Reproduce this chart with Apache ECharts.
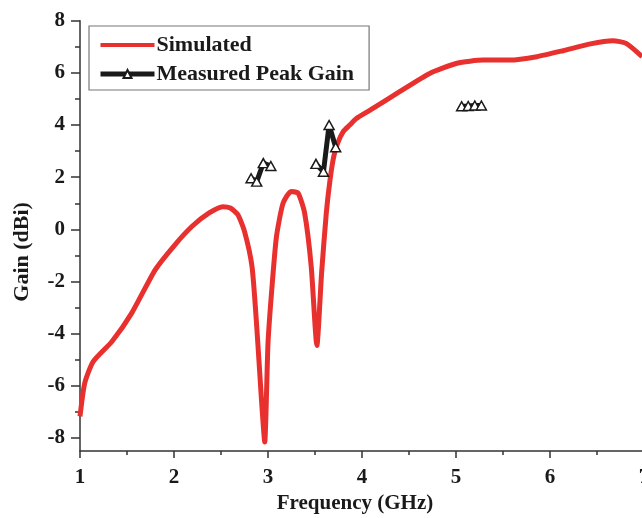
<!DOCTYPE html>
<html><head><meta charset="utf-8">
<script src="https://cdn.jsdelivr.net/npm/echarts@6/dist/echarts.min.js"></script>
<style>html,body{margin:0;padding:0;background:#fff}#c{width:642px;height:518px}</style>
</head><body><div id="c"></div>
<script>
const simFreq = [1.0,1.05,1.14,1.34,1.55,1.8,2.01,2.19,2.37,2.52,2.6,2.68,2.75,2.83,2.88,2.93,2.965,3.0,3.04,3.09,3.16,3.245,3.32,3.39,3.46,3.52,3.57,3.62,3.66,3.7,3.74,3.8,3.87,3.94,4.09,4.4,4.72,5.01,5.29,5.57,5.86,6.14,6.43,6.67,6.81,6.98];
const simGain = [-7.17,-5.9,-5.07,-4.3,-3.21,-1.55,-0.59,0.11,0.62,0.87,0.82,0.56,-0.08,-1.43,-3.72,-6.5,-8.15,-4.36,-2.32,-0.28,1.0,1.45,1.39,0.62,-1.43,-4.45,-1.68,0.62,1.9,2.8,3.3,3.75,4.0,4.25,4.58,5.28,5.98,6.37,6.49,6.49,6.62,6.85,7.11,7.23,7.13,6.62];
const measFreq = [2.82,2.88,2.95,3.03,null,3.51,3.59,3.65,3.72,null,5.06,5.13,5.20,5.27];
const measGain = [1.96,1.83,2.54,2.43,null,2.51,2.21,4.0,3.15,null,4.72,4.73,4.75,4.75];
const xTicks = [1,2,3,4,5,6,7];
const yTicks = [-8,-6,-4,-2,0,2,4,6,8];
const yMinorTicks = [-7,-5,-3,-1,1,3,5,7];

const font = '"Liberation Serif","Times New Roman",serif';
const ink = '#1a1a1a';
const sim = simFreq.map((x,i)=>[x,simGain[i]]);
const meas = measFreq.map((x,i)=> x===null ? [null,null] : [x,measGain[i]]);

const chart = echarts.init(document.getElementById('c'));
chart.setOption({
  animation:false,
  backgroundColor:'#fff',
  grid:{left:80, top:20.7, width:564, height:430.4, containLabel:false, outerBoundsMode:'none'},
  legend:{
    left:89, top:26, orient:'vertical',
    padding:[8,15,5,9], itemGap:7, itemWidth:54, itemHeight:10,
    borderColor:'#777', borderWidth:1.2,
    lineStyle:{width:5},
    textStyle:{fontFamily:font, fontWeight:'bold', fontSize:22, color:ink, padding:[0,0,0,-3]},
    data:[
      {name:'Simulated', icon:'path://M0,0H0.01V0.01H0ZM0,3H54V7H0ZM0,9.99H0.01V10H0Z'},
      {name:'Measured Peak Gain'}
    ]
  },
  xAxis:{
    type:'value', min:1, max:7, interval:1,
    name:'Frequency (GHz)', nameLocation:'middle', nameGap:40,
    nameTextStyle:{fontFamily:font, fontWeight:'bold', fontSize:21, color:ink, padding:[0,14,0,0]},
    axisLine:{onZero:false, lineStyle:{color:'#333', width:1.5}},
    axisTick:{inside:false, length:7, lineStyle:{color:'#333', width:1.5}},
    minorTick:{show:true, splitNumber:2, length:4, lineStyle:{color:'#333', width:1.5}},
    axisLabel:{fontFamily:font, fontWeight:'bold', fontSize:21, color:ink, margin:16,
      formatter:v=> xTicks.includes(v) ? String(v) : ''},
    splitLine:{show:false}
  },
  yAxis:[
    {type:'value', min:-8.5, max:8, position:'left',
     axisLine:{show:true, onZero:false, lineStyle:{color:'#333', width:1.5}},
     axisTick:{show:true, inside:false, length:9, customValues:yTicks, lineStyle:{color:'#333', width:1.5}},
     axisLabel:{show:true, customValues:yTicks, fontFamily:font, fontWeight:'bold', fontSize:21, color:ink, margin:15},
     splitLine:{show:false},
     name:'Gain (dBi)', nameLocation:'middle', nameGap:47,
     nameTextStyle:{fontFamily:font, fontWeight:'bold', fontSize:22, color:ink, padding:[0,32,0,0]}},
    {type:'value', min:-8.5, max:8, position:'left', offset:0,
     axisLine:{show:false, onZero:false}, splitLine:{show:false},
     axisTick:{show:true, inside:false, length:5, customValues:yMinorTicks, lineStyle:{color:'#333', width:1.5}},
     axisLabel:{show:false}}
  ],
  series:[
    {name:'Simulated', type:'line', data:sim, showSymbol:false, symbol:'none', smooth:0.2,
     lineStyle:{color:'#e8312f', width:5}, itemStyle:{color:'#e8312f'}, z:2},
    {name:'Measured Peak Gain', type:'line', data:meas, connectNulls:false,
     symbol:'triangle', symbolSize:[10,9],
     lineStyle:{color:ink, width:5},
     itemStyle:{color:'#fff', borderColor:ink, borderWidth:1.5}, z:3}
  ]
});
</script>
</body></html>
